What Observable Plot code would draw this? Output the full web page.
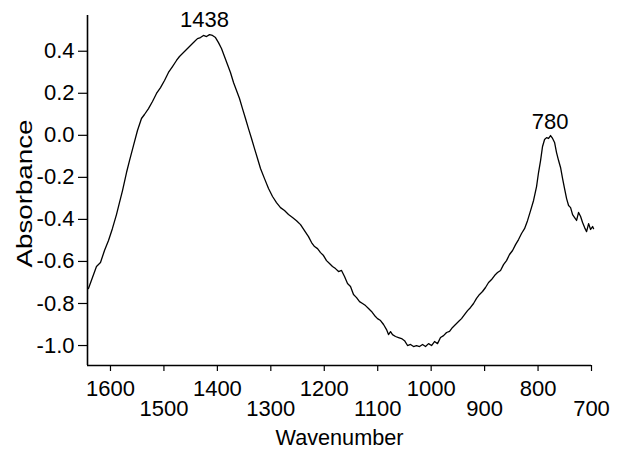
<!DOCTYPE html>
<html>
<head>
<meta charset="utf-8">
<script src="https://cdn.jsdelivr.net/npm/d3@7"></script>
<script src="https://cdn.jsdelivr.net/npm/@observablehq/plot@0.6"></script>
<style>
  html, body { margin: 0; padding: 0; background: #fff; }
  #chart { width: 618px; height: 452px; }
</style>
</head>
<body>
<div id="chart"></div>
<script>
// Spectrum (wavenumber, absorbance)
const wavenumber = [
  1641.2, 1633.7, 1626.2, 1618.7, 1611.2, 1603.7, 1596.3, 1588.8, 1583.2, 1577.5,
  1570.0, 1564.4, 1557.0, 1549.5, 1542.0, 1536.4, 1528.9, 1521.4, 1513.9, 1506.4,
  1498.9, 1491.5, 1484.0, 1476.5, 1470.9, 1465.3, 1457.8, 1450.3, 1442.8, 1437.2,
  1431.6, 1426.0, 1420.3, 1414.7, 1409.1, 1403.5, 1397.9, 1392.3, 1386.7, 1381.1,
  1375.5, 1369.8, 1364.2, 1358.6, 1353.0, 1347.4, 1341.8, 1336.1, 1330.5, 1324.9,
  1319.3, 1311.8, 1304.3, 1296.8, 1289.4, 1281.9, 1274.4, 1266.9, 1259.4, 1251.9,
  1244.4, 1237.0, 1229.5, 1223.8, 1218.2, 1212.6, 1207.0, 1201.4, 1195.8, 1190.2,
  1184.6, 1179.0, 1173.3, 1167.7, 1162.1, 1156.5, 1150.9, 1145.3, 1139.6, 1134.0,
  1128.4, 1122.8, 1117.2, 1111.6, 1106.0, 1100.4, 1094.7, 1089.1, 1083.5, 1079.8,
  1076.0, 1072.3, 1066.7, 1061.1, 1055.4, 1049.8, 1044.2, 1038.6, 1033.0, 1027.4,
  1021.8, 1016.1, 1010.5, 1004.9, 999.3, 993.7, 988.1, 982.5, 976.8, 971.2,
  965.6, 960.0, 954.4, 948.8, 943.2, 937.6, 931.9, 926.3, 920.7, 915.1,
  909.5, 903.9, 898.3, 892.6, 887.0, 881.4, 875.8, 870.2, 864.6, 859.0,
  853.4, 847.7, 842.1, 836.5, 830.9, 825.3, 819.7, 814.0, 808.4, 802.8,
  799.1, 795.3, 791.6, 787.8, 784.1, 780.3, 776.6, 772.8, 769.1, 765.4,
  761.6, 757.9, 754.1, 750.4, 746.6, 742.9, 739.1, 735.4, 731.6, 727.9,
  724.2, 720.4, 716.7, 712.9, 709.2, 705.4, 701.7, 697.9, 696.1
];
const absorbance = [
  -0.729, -0.676, -0.624, -0.605, -0.548, -0.500, -0.443, -0.377, -0.320, -0.263,
  -0.177, -0.120, -0.049, 0.023, 0.080, 0.099, 0.127, 0.161, 0.199, 0.227,
  0.261, 0.299, 0.327, 0.356, 0.375, 0.389, 0.408, 0.427, 0.446, 0.460,
  0.465, 0.475, 0.470, 0.479, 0.475, 0.465, 0.441, 0.413, 0.375, 0.337,
  0.299, 0.251, 0.213, 0.175, 0.127, 0.080, 0.032, -0.015, -0.063, -0.110,
  -0.158, -0.206, -0.253, -0.291, -0.320, -0.344, -0.358, -0.377, -0.391, -0.406,
  -0.425, -0.453, -0.482, -0.510, -0.529, -0.539, -0.558, -0.572, -0.596, -0.610,
  -0.624, -0.634, -0.648, -0.643, -0.672, -0.705, -0.719, -0.757, -0.772, -0.791,
  -0.800, -0.810, -0.824, -0.838, -0.857, -0.872, -0.881, -0.900, -0.924, -0.948,
  -0.934, -0.948, -0.957, -0.962, -0.967, -0.977, -1.000, -0.995, -1.005, -1.000,
  -1.005, -0.995, -1.005, -0.991, -1.000, -0.981, -0.991, -0.962, -0.953, -0.938,
  -0.933, -0.914, -0.900, -0.886, -0.872, -0.853, -0.834, -0.819, -0.800, -0.776,
  -0.757, -0.743, -0.724, -0.700, -0.686, -0.667, -0.653, -0.643, -0.615, -0.596,
  -0.567, -0.548, -0.520, -0.496, -0.467, -0.444, -0.406, -0.358, -0.310, -0.244,
  -0.177, -0.120, -0.053, -0.020, -0.011, -0.015, -0.001, -0.015, -0.034, -0.082,
  -0.120, -0.153, -0.206, -0.253, -0.301, -0.334, -0.344, -0.377, -0.391, -0.405,
  -0.367, -0.386, -0.415, -0.439, -0.458, -0.420, -0.448, -0.434, -0.444
];

// Peak annotations
const peakLabels = ["1438", "780"];
const peakX = [1424, 777.5];
const peakY = [0.517, 0.028];

// Axes
const xTicksTop = [1600, 1400, 1200, 1000, 800];
const xTicksBottom = [1500, 1300, 1100, 900, 700];
const xTicksAll = [1600, 1500, 1400, 1300, 1200, 1100, 1000, 900, 800, 700];
const yTicks = [0.4, 0.2, 0.0, -0.2, -0.4, -0.6, -0.8, -1.0];
const xDomain = [1643, 700];
const yDomain = [-1.095, 0.57];
const xLabel = "Wavenumber";
const yLabel = "Absorbance";

const spectrum = wavenumber.map((w, i) => ({w, a: absorbance[i]}));
const peaks = peakLabels.map((t, i) => ({t, x: peakX[i], y: peakY[i]}));

const chart = Plot.plot({
  width: 618,
  height: 452,
  marginLeft: 87,
  marginRight: 27,
  marginTop: 15,
  marginBottom: 87,
  style: {fontFamily: "'Liberation Sans', Arial, sans-serif", fontSize: "22px", background: "#fff", color: "#000"},
  x: {domain: xDomain, label: null},
  y: {domain: yDomain, label: null},
  marks: [
    Plot.axisY({ticks: yTicks, tickSize: 9, tickPadding: 4, tickFormat: d => d.toFixed(1), label: null, strokeWidth: 1.2}),
    Plot.axisX({ticks: xTicksAll, tickSize: 6, tickFormat: () => "", label: null, strokeWidth: 1.2}),
    Plot.axisX({ticks: xTicksTop, tickSize: 0, tickPadding: 15, tickFormat: d => String(d), label: null}),
    Plot.axisX({ticks: xTicksBottom, tickSize: 0, tickPadding: 35, tickFormat: d => String(d), label: null}),
    Plot.ruleX([xDomain[0]], {y1: yDomain[0], y2: yDomain[1], stroke: "#000", strokeWidth: 1.6}),
    Plot.ruleY([yDomain[0]], {x1: xDomain[0], x2: xDomain[1], stroke: "#000", strokeWidth: 1.6}),
    Plot.line(spectrum, {x: "w", y: "a", stroke: "#000", strokeWidth: 1.3}),
    Plot.text(peaks, {x: "x", y: "y", text: "t", lineAnchor: "bottom", fill: "#000"}),
    Plot.text([xLabel], {frameAnchor: "bottom", dy: 72, lineAnchor: "middle", fill: "#000", className: "xlab"}),
    Plot.text([yLabel], {frameAnchor: "left", dx: -63, rotate: -90, lineAnchor: "middle", textAnchor: "start", fill: "#000", className: "ylab"})
  ]
});
// stretch axis titles to the reference's lengths
d3.select(chart).selectAll(".ylab text").attr("x", -77).attr("textLength", 148).attr("lengthAdjust", "spacingAndGlyphs");
d3.select(chart).selectAll(".xlab text").attr("textLength", 128).attr("lengthAdjust", "spacingAndGlyphs");
document.getElementById("chart").appendChild(chart);
</script>
</body>
</html>
